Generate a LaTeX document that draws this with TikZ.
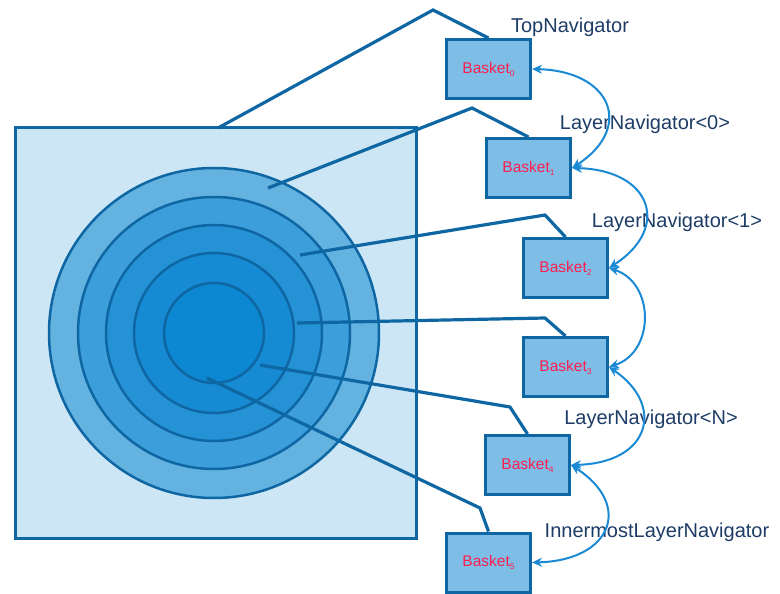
\documentclass[tikz,border=0pt]{standalone}
\usepackage{fontspec}
\setmainfont{Liberation Sans}
\usetikzlibrary{arrows.meta}
\definecolor{strk}{HTML}{0E67A3}
\definecolor{sqfill}{HTML}{CCE6F5}
\definecolor{ringa}{HTML}{64B2E0}
\definecolor{ringb}{HTML}{3C9FDB}
\definecolor{ringc}{HTML}{2592D6}
\definecolor{ringd}{HTML}{168AD3}
\definecolor{ringe}{HTML}{0C87D2}
\definecolor{bfill}{HTML}{7DBDE6}
\definecolor{arcblue}{HTML}{1A8AD4}
\definecolor{bred}{HTML}{FF1F4F}
\definecolor{navtext}{HTML}{1D3C66}
\begin{document}
\begin{tikzpicture}[x=1pt,y=-1pt,
  sqbox/.style={draw=strk,fill=sqfill,line width=3pt,inner sep=0pt,minimum width=401pt,minimum height=410pt},
  ring/.style={circle,draw=strk,line width=2.5pt,inner sep=0pt},
  basket/.style={draw=strk,fill=bfill,line width=3pt,inner sep=0pt,minimum width=84pt,minimum height=59pt,
    font=\fontsize{15.5}{15.5}\selectfont,text=bred},
  conn/.style={draw=strk,line width=3.2pt},
  navarc/.style={draw=arcblue,line width=2pt,{Stealth[length=10pt,width=9pt]}-{Stealth[length=10pt,width=9pt]}},
  nav/.style={font=\fontsize{20}{20}\selectfont,text=navtext,anchor=base,inner sep=0pt}]
\useasboundingbox (0,0) rectangle (780,594);

\node[sqbox] (sq) at (215.5,333) {};
\node[ring,fill=ringa,minimum size=330pt] (r1) at (214,333) {};
\node[ring,fill=ringb,minimum size=272pt] (r2) at (214,333) {};
\node[ring,fill=ringc,minimum size=216pt] (r3) at (214,333) {};
\node[ring,fill=ringd,minimum size=160pt] (r4) at (214,333) {};
\node[ring,fill=ringe,minimum size=100pt] (r5) at (214,333) {};

\coordinate (c0) at (218,128);
\coordinate (c1) at (268,188);
\coordinate (c2) at (300,255);
\coordinate (c3) at (297,323);
\coordinate (c4) at (260,365);
\coordinate (c5) at (207,378);
\coordinate (a0) at (433,10);
\coordinate (a1) at (472,108);
\coordinate (a2) at (545,215);
\coordinate (a3) at (545,318);
\coordinate (a4) at (510,407);
\coordinate (a5) at (480,508);

\node[basket] (b0) at (488.5,69) {};
\node[basket] (b1) at (528.5,168) {};
\node[basket] (b2) at (565.5,268) {};
\node[basket] (b3) at (565.5,367) {};
\node[basket] (b4) at (527.5,465) {};
\node[basket] (b5) at (488.5,562.5) {};

\draw[conn] (c0) -- (a0) -- (b0.north);
\draw[conn] (c1) -- (a1) -- (b1.north);
\draw[conn] (c2) -- (a2) -- (b2.north);
\draw[conn] (c3) -- (a3) -- (b3.north);
\draw[conn] (c4) -- (a4) -- (b4.north);
\draw[conn] (c5) -- (a5) -- (b5.north);

% baskets drawn over the connector ends
\foreach \n/\k in {b0/0,b1/1,b2/2,b3/3,b4/4,b5/5}{
  \node[basket] at (\n) {Basket\raisebox{-0.35ex}{\fontsize{8.5}{8.5}\selectfont \k}};
}

\node[nav] (tn) at (570,33) {TopNavigator};
\node[nav] (l0) at (645,129) {LayerNavigator<0>};
\node[nav] (l1) at (677,227) {LayerNavigator<1>};
\node[nav] (ln) at (651,424) {LayerNavigator<N>};
\node[nav] (il) at (657,537) {InnermostLayerNavigator};

\draw[navarc] (b0.east) .. controls +(80,2) and +(62,-40) .. (b1.east);
\draw[navarc] (b1.east) .. controls +(80,2) and +(62,-40) .. (b2.east);
\draw[navarc] (b2.east) .. controls +(46,15) and +(46,-15) .. (b3.east);
\draw[navarc] (b3.east) .. controls +(56,38) and +(80,-2) .. (b4.east);
\draw[navarc] (b4.east) .. controls +(62,40) and +(80,-2) .. (b5.east);
\end{tikzpicture}
\end{document}
